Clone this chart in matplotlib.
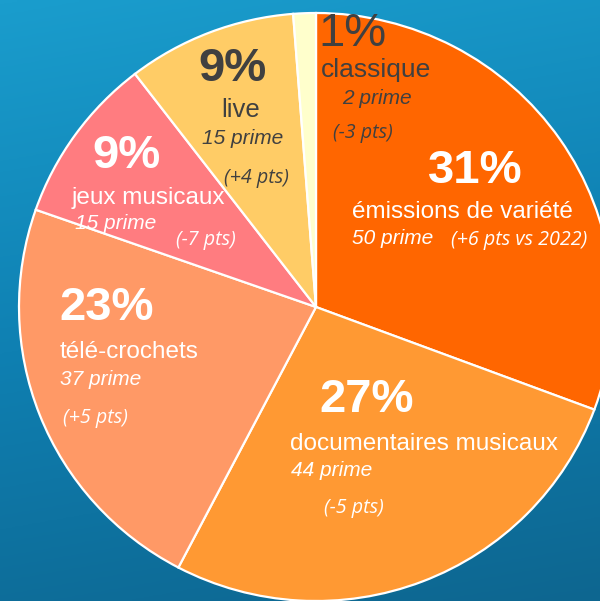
import numpy as np
import matplotlib.pyplot as plt
from matplotlib.colors import LinearSegmentedColormap

# data
categories = ['émissions de variété', 'documentaires musicaux', 'télé-crochets',
              'jeux musicaux', 'live', 'classique']
primes = [50, 44, 37, 15, 15, 2]
pcts = ['31%', '27%', '23%', '9%', '9%', '1%']
deltas = ['(+6 pts vs 2022)', '(-5 pts)', '(+5 pts)', '(-7 pts)', '(+4 pts)', '(-3 pts)']

colors = ['#FF6600', '#FF9933', '#FF9966', '#FF7C80', '#FFCC66', '#FFFFCC']
dark = '#404040'
txt_colors = ['white', 'white', 'white', 'white', dark, dark]
pct_weight = ['bold', 'bold', 'bold', 'bold', 'bold', 'normal']
label_size = [17.5, 17.5, 17.5, 17.5, 18.5, 19]

# layout in pixel coords (left x, baseline y from top):
# pct, label, prime, delta
layout = [
    [(428, 183), (352, 218), (352, 244), (451, 245)],
    [(319, 412), (290, 450), (291, 476), (324, 513)],
    [(59, 320), (60, 358), (60, 385), (63, 423)],
    [(92, 168), (72, 204), (75, 229), (176, 245)],
    [(198, 81), (221, 117), (202, 144), (224, 183)],
    [(318, 46), (321, 77), (342, 104), (333, 138)],
]

W, H = 600, 601
fig = plt.figure(figsize=(W / 100, H / 100), dpi=100)

# background gradient
bg = fig.add_axes([0, 0, 1, 1], zorder=0)
cmap = LinearSegmentedColormap.from_list('bg', ['#1a9dcd', '#0f80b2', '#0d6690'])
yy, xx = np.mgrid[0:1:200j, 0:1:200j]
grad = 0.85 * yy + 0.15 * xx
bg.imshow(grad, cmap=cmap, extent=[0, 1, 0, 1], origin='upper', aspect='auto')
bg.axis('off')

# pie (slightly wider than tall, like the reference)
cx, cy, rx, ry = 316, 307, 297, 294
pie_ax = fig.add_axes([(cx - rx) / W, (H - cy - ry) / H, 2 * rx / W, 2 * ry / H], zorder=1)
pie_ax.pie(primes, colors=colors, startangle=90, counterclock=False, radius=1,
           wedgeprops=dict(edgecolor='white', linewidth=1.6, clip_on=False))
pie_ax.set_xlim(-1, 1)
pie_ax.set_ylim(-1, 1)
pie_ax.set_aspect('auto')
pie_ax.axis('off')

# text layer in pixel coords
ax = fig.add_axes([0, 0, 1, 1], zorder=2)
ax.set_xlim(0, W)
ax.set_ylim(H, 0)
ax.axis('off')

for i in range(len(categories)):
    c = txt_colors[i]
    (px, py), (lx, ly), (mx, my), (dx, dy) = layout[i]
    ax.text(px, py, pcts[i], color=c, fontsize=34, fontweight=pct_weight[i],
            family='Liberation Sans', ha='left', va='baseline')
    ax.text(lx, ly, categories[i], color=c, fontsize=label_size[i],
            family='Liberation Sans', ha='left', va='baseline')
    ax.text(mx, my, f'{primes[i]} prime', color=c, fontsize=15, style='italic',
            family='Liberation Sans', ha='left', va='baseline')
    ax.text(dx, dy, deltas[i], color=c, fontsize=14.2, style='italic',
            family='Open Sans', ha='left', va='baseline')

fig.savefig('out.png', dpi=100)
